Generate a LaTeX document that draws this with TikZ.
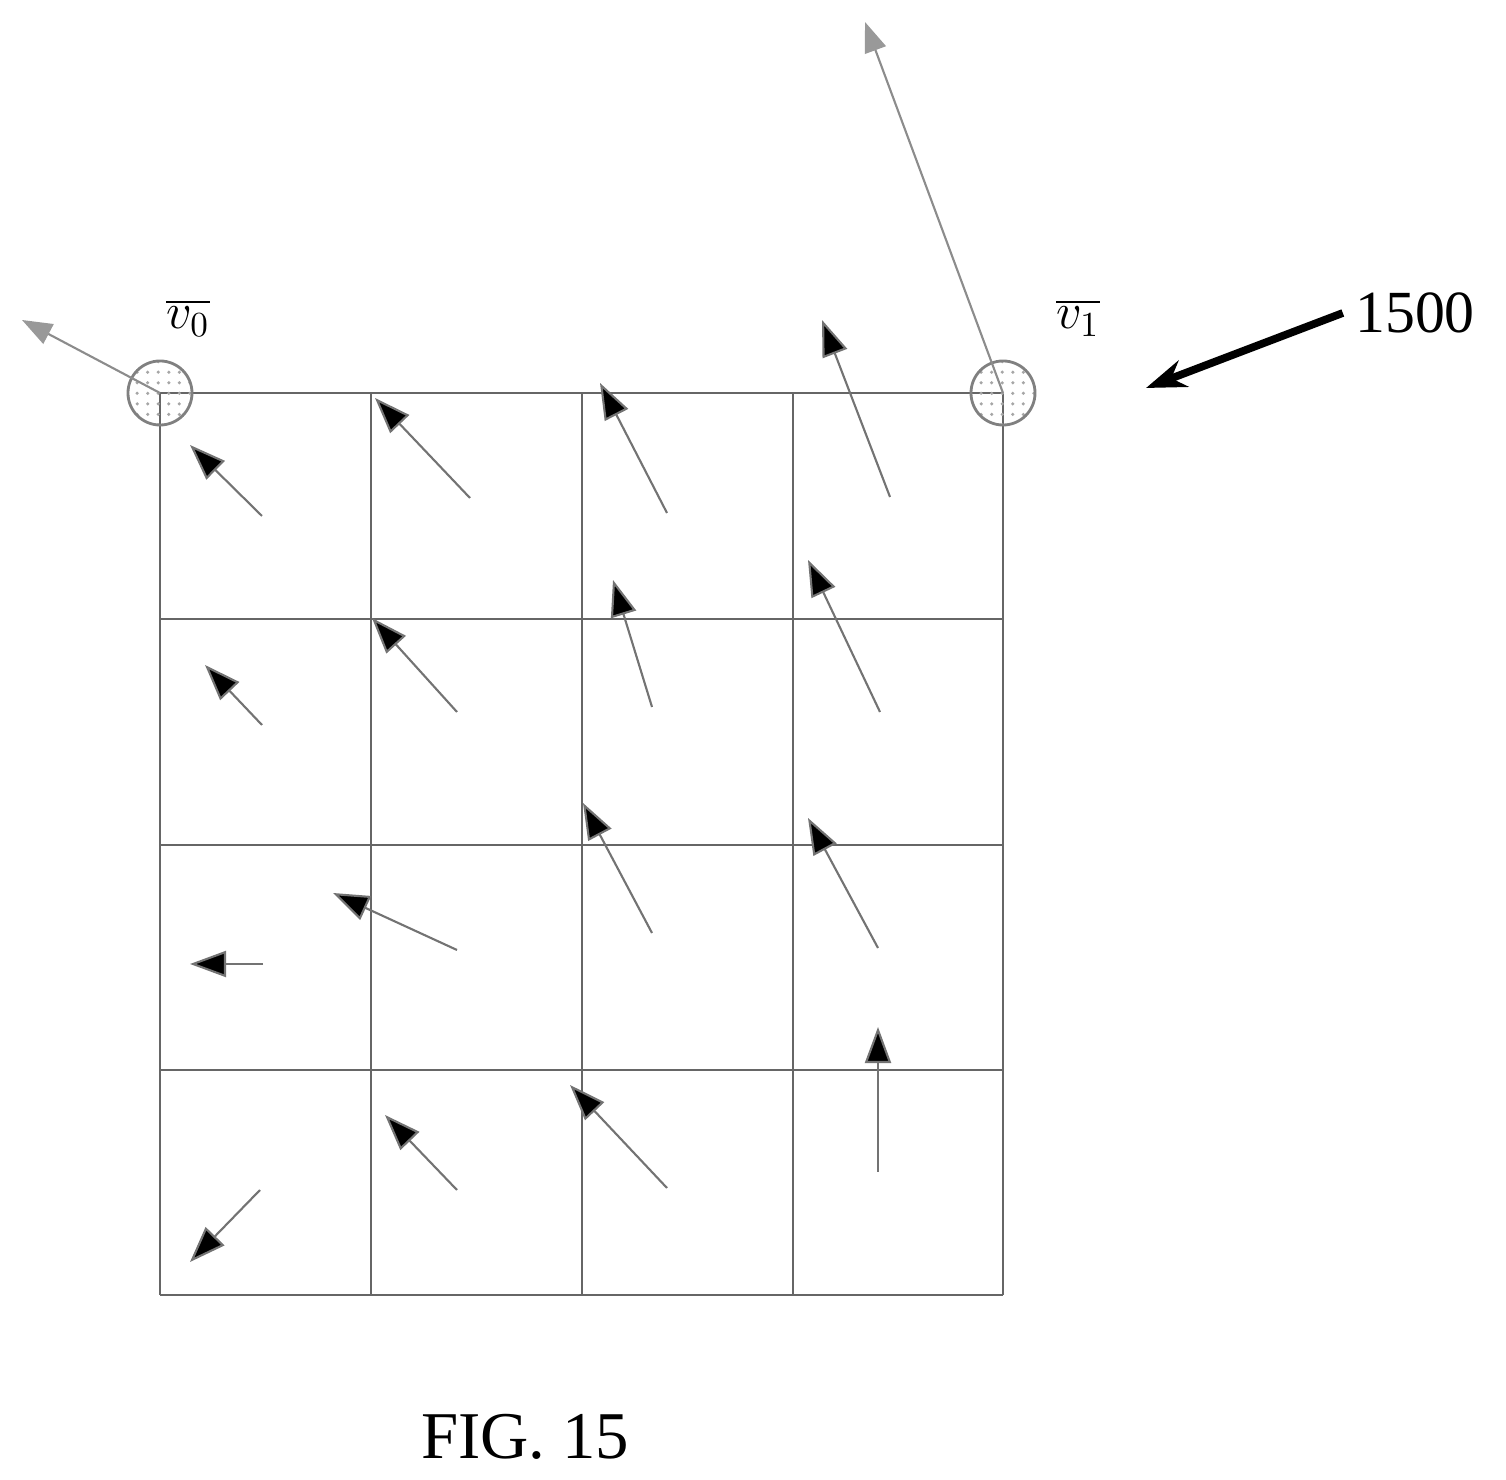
\documentclass[tikz,border=0pt]{standalone}
\usepackage{fontspec}
\setmainfont{Liberation Serif}
\usepackage{tikz}
\usetikzlibrary{arrows.meta}
\usetikzlibrary{positioning}
\usetikzlibrary{patterns}
\tikzset{
    gridline/.style = {draw=black!60,thick},
    vertex/.style = {circle, draw=black!50, thick, minimum size=0.64cm, inner sep=0pt, pattern=dots, pattern color=black!35},
    vec/.style = {draw=black!55, semithick, -{Triangle[length=0.36cm,width=0.26cm,fill=black]}},
    bigvec/.style = {draw=black!45, semithick, -{Triangle[length=0.3cm,width=0.22cm,fill=black!40,color=black!40]}},
    refarrow/.style = {-{Stealth[length=0.4cm,width=0.28cm]},line width=2.2pt},
    lbl/.style = {font=\fontsize{14}{16}\selectfont}
}
\begin{document}
\begin{tikzpicture}[x=0.01cm,y=-0.01cm]
\useasboundingbox (0,0) rectangle (1506,1480);
%
\foreach \gx in {160,371,582,793,1003} \draw[gridline] (\gx,393) -- (\gx,1295);
\foreach \gy in {393,619,845,1070,1295} \draw[gridline] (160,\gy) -- (1003,\gy);
%
\node[vertex] at (160,393) (v0) {};
\node[vertex] at (1003,393) (v1) {};
\coordinate (v0tip) at (22,320);
\coordinate (v1tip) at (865,22);
\draw[bigvec] (v0.center) -- (v0tip);
\draw[bigvec] (v1.center) -- (v1tip);
\node[lbl] at (188,318) (v0lbl) {$\overline{v_0}$};
\node[lbl] at (1078,318) (v1lbl) {$\overline{v_1}$};
%
\foreach \tx/\ty/\hx/\hy [count=\i] in {
  262/516/190/445, 470/498/375/398, 667/513/600/383, 890/497/822/320,
  262/725/205/665, 457/712/372/618, 652/707/613/580, 880/712/808/560,
  263/964/190/964, 457/950/333/893, 652/933/583/803, 878/948/808/818,
  260/1190/190/1262, 457/1190/385/1115, 667/1188/570/1085, 878/1172/878/1027}{
  \coordinate (t\i) at (\tx,\ty);
  \coordinate (h\i) at (\hx,\hy);
  \draw[vec] (t\i) -- (h\i);
}
%
\node[font=\fontsize{17}{20}\selectfont] at (1415,313) (ref) {1500};
\coordinate (reftip) at (1146,388);
\draw[refarrow] (ref.west) -- (reftip);
\node[font=\fontsize{19}{22}\selectfont] at (525,1437) (fig) {FIG.~15};
\end{tikzpicture}
\end{document}
